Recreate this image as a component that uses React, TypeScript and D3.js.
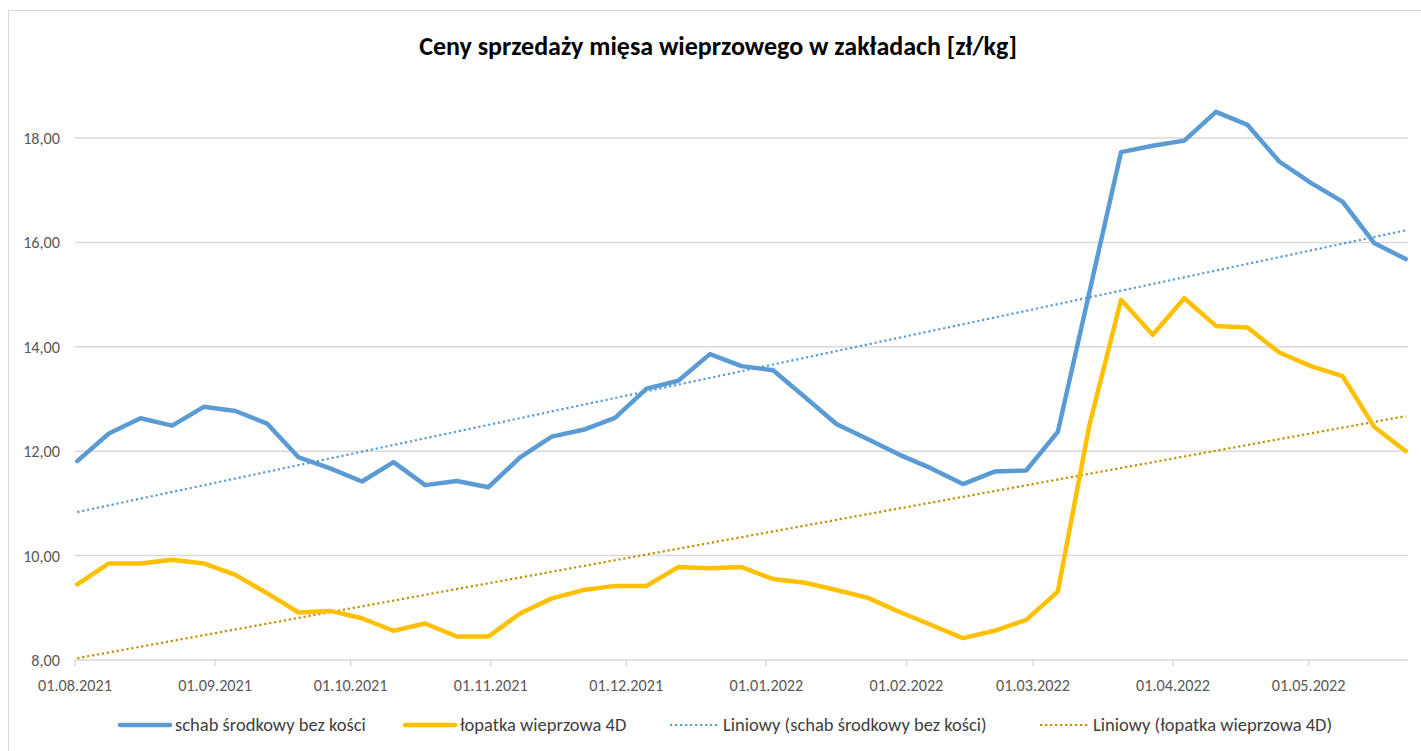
import React from "react";
import * as d3 from "d3";

// weekly prices, first observation 01.08.2021
const firstDate = new Date(2021, 7, 1);
const axisEnd = new Date(2022, 4, 23);

const schab = [
  11.81, 12.34, 12.63, 12.49, 12.85, 12.77, 12.53, 11.88, 11.67, 11.42,
  11.79, 11.35, 11.43, 11.31, 11.88, 12.28, 12.41, 12.64, 13.2, 13.35,
  13.86, 13.63, 13.55, 13.04, 12.52, 12.23, 11.93, 11.67, 11.37, 11.61,
  11.63, 12.37, 15.05, 17.73, 17.85, 17.95, 18.5, 18.25, 17.55, 17.14,
  16.78, 15.99, 15.68,
];

const lopatka = [
  9.45, 9.85, 9.85, 9.92, 9.85, 9.63, 9.28, 8.91, 8.94, 8.8,
  8.56, 8.7, 8.45, 8.45, 8.89, 9.18, 9.34, 9.42, 9.42, 9.78,
  9.76, 9.78, 9.55, 9.48, 9.34, 9.19, 8.92, 8.67, 8.42, 8.56,
  8.77, 9.31, 12.5, 14.9, 14.23, 14.93, 14.4, 14.37, 13.89, 13.63,
  13.44, 12.47, 12.0,
];

const yTicks = [8, 10, 12, 14, 16, 18];

const title = "Ceny sprzedaży mięsa wieprzowego w zakładach [zł/kg]";
const legendLabels = [
  "schab środkowy bez kości",
  "łopatka wieprzowa 4D",
  "Liniowy (schab środkowy bez kości)",
  "Liniowy (łopatka wieprzowa 4D)",
];

const BLUE = "#5B9BD5";
const GOLD = "#FFC000";
const GOLD_DARK = "#BF9000";
const FONT = "Carlito, Calibri, 'Liberation Sans', Arial, sans-serif";

const dates = schab.map((_, i) => d3.timeDay.offset(firstDate, 7 * i));

// linear trend, least squares on day number (like Excel)
function trend(values: number[]) {
  const xs = dates.map((d) => d3.timeDay.count(firstDate, d));
  const mx = d3.mean(xs)!;
  const my = d3.mean(values)!;
  let num = 0;
  let den = 0;
  xs.forEach((x, i) => {
    num += (x - mx) * (values[i] - my);
    den += (x - mx) * (x - mx);
  });
  const slope = num / den;
  const b = my - slope * mx;
  return [xs[0], xs[xs.length - 1]].map((x) => ({
    date: d3.timeDay.offset(firstDate, x),
    v: b + slope * x,
  }));
}

export default function App() {
  const width = 1421;
  const height = 751;
  const margin = { top: 85.8, right: 13, bottom: 91, left: 75 };

  const x = d3
    .scaleTime()
    .domain([firstDate, axisEnd])
    .range([margin.left, width - margin.right]);
  const y = d3
    .scaleLinear()
    .domain([8, 19])
    .range([height - margin.bottom, margin.top]);

  // points sit in the middle of their day slot
  const px = (d: Date) => x(d3.timeHour.offset(d, 12));

  const line = d3
    .line<number>()
    .x((_, i) => px(dates[i]))
    .y((v) => y(v));

  const trendLine = d3
    .line<{ date: Date; v: number }>()
    .x((d) => px(d.date))
    .y((d) => y(d.v));

  const monthTicks = d3.timeMonth.range(firstDate, axisEnd);
  const fmt = d3.timeFormat("%d.%m.%Y");

  const legendX = [120, 405, 670, 1040];
  const legendY = 725;

  return (
    <svg
      width={width}
      height={height}
      style={{ position: "absolute", left: 0, top: 0, background: "#fff" }}
      fontFamily={FONT}
    >
      <rect x={8.5} y={10.5} width={1500} height={800} fill="#fff" stroke="#d9d9d9" />

      <text x={718} y={55} textAnchor="middle" fontSize={26} fontWeight="bold" fill="#000">
        {title}
      </text>

      {/* gridlines */}
      {yTicks.map((t) => (
        <line
          key={t}
          x1={margin.left}
          x2={width - margin.right}
          y1={y(t)}
          y2={y(t)}
          stroke="#d9d9d9"
          strokeWidth={1.5}
        />
      ))}
      {yTicks.map((t) => (
        <text key={"l" + t} x={60} y={y(t) + 6} textAnchor="end" fontSize={16.2} fill="#595959">
          {d3.format(".2f")(t).replace(".", ",")}
        </text>
      ))}

      {/* x axis */}
      {monthTicks.map((d) => (
        <g key={d.toISOString()}>
          <line x1={x(d)} x2={x(d)} y1={y(8)} y2={y(8) + 6} stroke="#d9d9d9" strokeWidth={1.5} />
          <text x={x(d)} y={y(8) + 31} textAnchor="middle" fontSize={16.2} fill="#595959">
            {fmt(d)}
          </text>
        </g>
      ))}

      {/* trend lines */}
      <path d={trendLine(trend(schab))!} fill="none" stroke={BLUE} strokeWidth={2.2} strokeDasharray="2.2 2.8" />
      <path d={trendLine(trend(lopatka))!} fill="none" stroke={GOLD_DARK} strokeWidth={2.2} strokeDasharray="2.2 2.8" />

      {/* series */}
      <path d={line(schab)!} fill="none" stroke={BLUE} strokeWidth={4.5} strokeLinejoin="round" strokeLinecap="round" />
      <path d={line(lopatka)!} fill="none" stroke={GOLD} strokeWidth={4.5} strokeLinejoin="round" strokeLinecap="round" />

      {/* legend */}
      {legendLabels.map((label, i) => {
        const color = [BLUE, GOLD, BLUE, GOLD_DARK][i];
        const dotted = i >= 2;
        return (
          <g key={label} transform={`translate(${legendX[i]},${legendY})`}>
            <line
              x1={0}
              x2={dotted ? 48 : 50}
              y1={0}
              y2={0}
              stroke={color}
              strokeWidth={dotted ? 2.2 : 4.5}
              strokeDasharray={dotted ? "2.2 2.8" : undefined}
              strokeLinecap={dotted ? "butt" : "round"}
            />
            <text x={dotted ? 53 : 55} y={6} fontSize={18.5} fill="#404040">
              {label}
            </text>
          </g>
        );
      })}
    </svg>
  );
}
